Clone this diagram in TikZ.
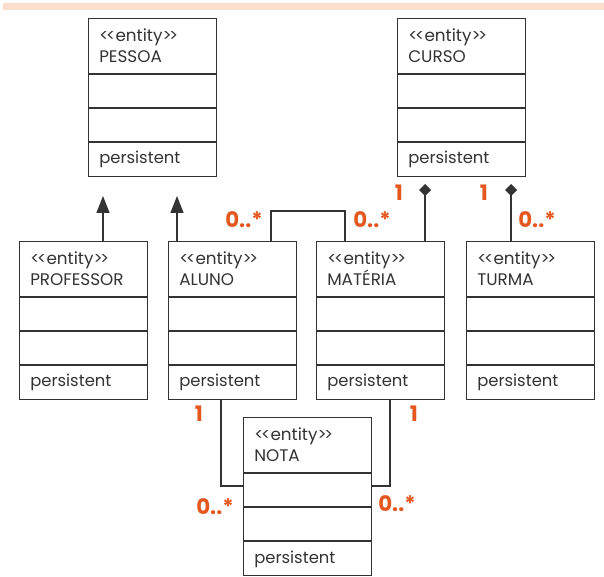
\documentclass[tikz,border=0pt]{standalone}
\usepackage{fontspec}
\setmainfont{Poppins}
\usetikzlibrary{calc,arrows.meta}
\definecolor{lineGray}{RGB}{51,51,51}
\definecolor{multOrange}{RGB}{228,88,32}
\definecolor{bandPeach}{RGB}{251,222,205}
\newcommand{\entitytag}{<\kern-1.8pt<entity>\kern-1.8pt>}
\tikzset{
  entity/.style={draw=lineGray, line width=1.1pt, anchor=north west, minimum width=96pt, minimum height=118.5pt, inner sep=0pt},
  divider/.style={draw=lineGray, line width=1.1pt},
  stereo/.style={anchor=north west, align=left, inner sep=0pt, text=lineGray, font=\fontsize{12.6}{15.75}\selectfont},
  persist/.style={anchor=base west, inner sep=0pt, text=lineGray, font=\fontsize{12.3}{15.75}\selectfont},
  assoc/.style={draw=lineGray, line width=1.1pt},
  generalize/.style={assoc, -{Triangle[length=12.75pt,width=9.75pt]}},
  compose/.style={assoc, -{Diamond[length=9pt,width=9pt]}},
  mult/.style={text=multOrange, font=\bfseries\fontsize{16}{16}\selectfont, inner sep=0pt}
}
\begin{document}
\begin{tikzpicture}[x=0.75pt,y=-0.75pt]
    \useasboundingbox (0,0) rectangle (604,577);
    \fill[bandPeach] (3,3) rectangle (604,10);

    % classes
    \foreach \id/\title/\px/\py in {pessoa/PESSOA/88/18, curso/CURSO/397/18,
        professor/PROFESSOR/19/241, aluno/ALUNO/168/241, materia/MATÉRIA/316/241,
        turma/TURMA/466/241, nota/NOTA/243/417}{
      \node [entity] (\id) at (\px,\py) {};
      \foreach \dy in {56,90,124}
        \draw [divider] ($(\id.north west)+(0,\dy)$) -- ($(\id.north east)+(0,\dy)$);
      \node [stereo] (\id-head) at ($(\id.north west)+(11,10)$) {\entitytag\\\title};
      \node [persist] (\id-foot) at ($(\id.north west)+(11,146)$) {persistent};
    }

    % generalizations
    \coordinate (profTip) at (103,196);
    \coordinate (alunoTip) at (177,196);
    \draw [generalize] (profTip |- professor.north) -- (profTip);
    \draw [generalize] (alunoTip |- aluno.north) -- (alunoTip);

    % compositions
    \coordinate (cursoMat) at (425,184);
    \coordinate (cursoTur) at (511,184);
    \draw [compose] (cursoMat |- materia.north) -- (cursoMat);
    \draw [compose] (cursoTur |- turma.north) -- (cursoTur);

    % associations
    \draw [assoc] ($(aluno.north west)+(103,0)$) |- ($(materia.north west)+(29,-30)$) -- ($(materia.north west)+(29,0)$);
    \draw [assoc] ($(aluno.south west)+(53,0)$) |- ($(nota.north west)+(0,69)$);
    \draw [assoc] ($(materia.south west)+(74,0)$) |- ($(nota.north east)+(0,69)$);

    % multiplicities
    \node [mult] (mAluMat) at (244,220) {0..*};
    \node [mult] (mMatAlu) at (372,220) {0..*};
    \node [mult] (mCurMat) at (399,193) {1};
    \node [mult] (mCurTur) at (484,193) {1};
    \node [mult] (mTurCur) at (537,220) {0..*};
    \node [mult] (mAluNota) at (199,414) {1};
    \node [mult] (mMatNota) at (414,414) {1};
    \node [mult] (mNotaAlu) at (215,507) {0..*};
    \node [mult] (mNotaMat) at (397,504) {0..*};
\end{tikzpicture}
\end{document}
